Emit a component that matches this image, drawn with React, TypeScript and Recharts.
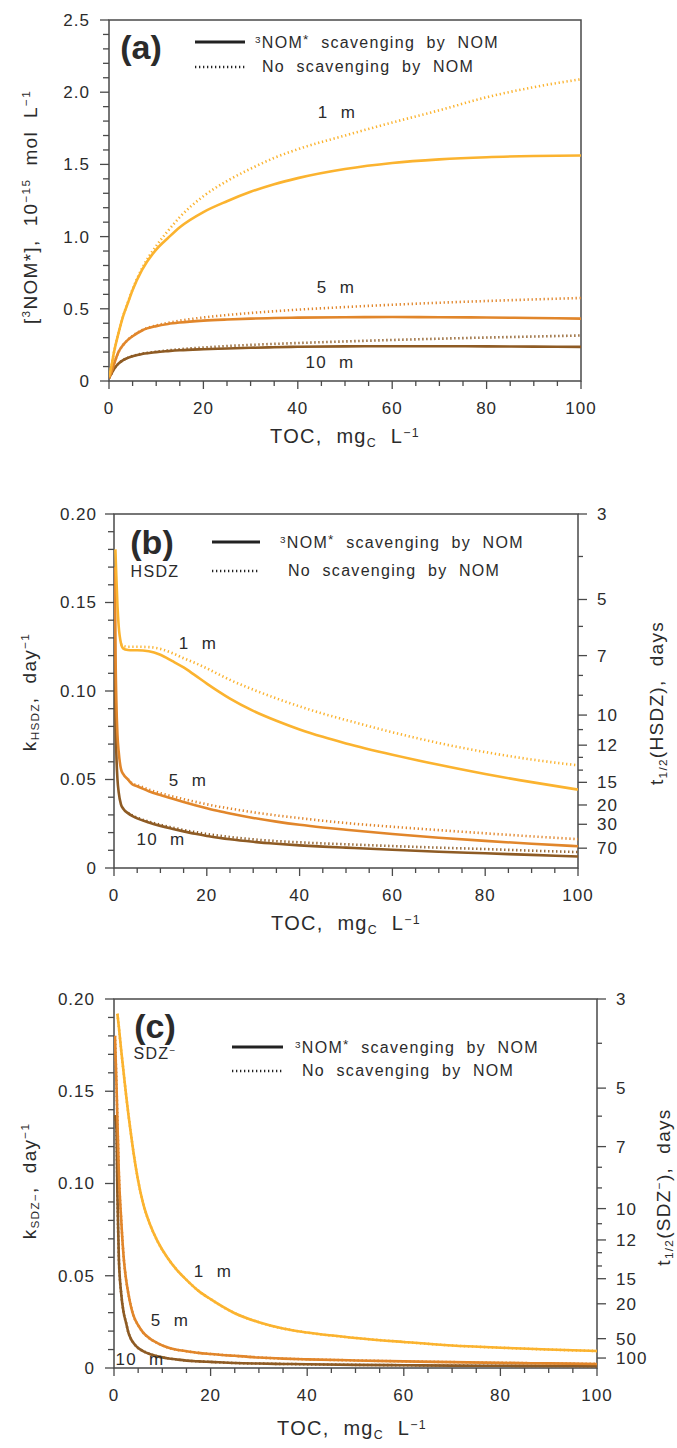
import React from "react";
import { LineChart, Line, XAxis, YAxis, ReferenceArea } from "recharts";

const FONT = '"Liberation Sans", Arial, Helvetica, sans-serif';
const INK = "#2b2b2b";
const FRAME = "#4a4a4a";
const C1 = "#FBB32F";
const C5 = "#E1862B";
const C10 = "#8E5B24";

// ---- panel (a): [3NOM*] vs TOC
const tocA = [0, 0.5, 1, 2, 3, 4, 5, 7, 10, 12.5, 15, 20, 25, 30, 35, 40, 50, 60, 70, 80, 90, 100];
const a1Solid = [0.03, 0.1, 0.19, 0.33, 0.45, 0.54, 0.63, 0.77, 0.91, 0.99, 1.065, 1.17, 1.245, 1.31, 1.363, 1.405, 1.468, 1.51, 1.535, 1.55, 1.558, 1.562];
const a1Dotted = [0.03, 0.1, 0.19, 0.33, 0.45, 0.545, 0.635, 0.78, 0.935, 1.04, 1.135, 1.28, 1.385, 1.47, 1.545, 1.605, 1.7, 1.79, 1.875, 1.965, 2.035, 2.09];
const a5Solid = [0.02, 0.06, 0.11, 0.2, 0.25, 0.285, 0.31, 0.35, 0.38, 0.395, 0.405, 0.418, 0.426, 0.432, 0.436, 0.439, 0.442, 0.443, 0.442, 0.44, 0.436, 0.432];
const a5Dotted = [0.02, 0.06, 0.11, 0.2, 0.25, 0.286, 0.312, 0.352, 0.385, 0.403, 0.418, 0.44, 0.457, 0.471, 0.483, 0.494, 0.512, 0.528, 0.542, 0.554, 0.565, 0.575];
const a10Solid = [0.02, 0.05, 0.08, 0.12, 0.145, 0.16, 0.172, 0.187, 0.2, 0.207, 0.213, 0.22, 0.225, 0.23, 0.234, 0.237, 0.24, 0.241, 0.241, 0.24, 0.238, 0.236];
const a10Dotted = [0.02, 0.05, 0.08, 0.12, 0.145, 0.161, 0.173, 0.189, 0.203, 0.212, 0.22, 0.232, 0.242, 0.25, 0.257, 0.263, 0.274, 0.284, 0.293, 0.301, 0.308, 0.315];

// ---- panel (b): k_HSDZ vs TOC
const tocB = [0.1, 0.2, 0.3, 0.5, 0.75, 1, 1.5, 2, 3, 4, 5, 7.5, 10, 12.5, 15, 17.5, 20, 22.5, 25, 30, 35, 40, 45, 50, 60, 70, 80, 90, 100];
const b1Solid = [null, null, 0.18, 0.165, 0.148, 0.137, 0.127, 0.124, 0.1232, 0.123, 0.123, 0.1225, 0.1205, 0.117, 0.1133, 0.1088, 0.1042, 0.0998, 0.0957, 0.0888, 0.0832, 0.0783, 0.0741, 0.0704, 0.064, 0.0583, 0.0531, 0.0485, 0.0443];
const b1Dotted = [null, null, null, null, null, null, 0.1265, 0.1255, 0.125, 0.125, 0.125, 0.1248, 0.1238, 0.1215, 0.1185, 0.1158, 0.1128, 0.1095, 0.1063, 0.1008, 0.0958, 0.0913, 0.0872, 0.0836, 0.0767, 0.0706, 0.0655, 0.0613, 0.058];
const b5Solid = [null, 0.17, 0.13, 0.095, 0.075, 0.066, 0.056, 0.053, 0.05, 0.0472, 0.0462, 0.0434, 0.0412, 0.0392, 0.0373, 0.0355, 0.0338, 0.0322, 0.0308, 0.0283, 0.0262, 0.0244, 0.0229, 0.0216, 0.0192, 0.0171, 0.0153, 0.0137, 0.0123];
const b5Dotted = [null, null, null, null, null, null, null, null, 0.0502, 0.0477, 0.0468, 0.0443, 0.0423, 0.0405, 0.0389, 0.0374, 0.036, 0.0347, 0.0336, 0.0315, 0.0297, 0.0282, 0.0267, 0.0254, 0.0233, 0.0214, 0.0196, 0.0179, 0.0163];
const b10Solid = [0.17, 0.12, 0.09, 0.065, 0.05, 0.043, 0.036, 0.0335, 0.031, 0.0293, 0.028, 0.0257, 0.0238, 0.0222, 0.0207, 0.0193, 0.0181, 0.0171, 0.0162, 0.0148, 0.0137, 0.0128, 0.0121, 0.0115, 0.0103, 0.0092, 0.0083, 0.0074, 0.0065];
const b10Dotted = [null, null, null, null, null, null, null, null, 0.0312, 0.0296, 0.0284, 0.0262, 0.0244, 0.0229, 0.0215, 0.0203, 0.0192, 0.0183, 0.0175, 0.0162, 0.0152, 0.0145, 0.0139, 0.0134, 0.0124, 0.0115, 0.0107, 0.0098, 0.009];

// ---- panel (c): k_SDZ- vs TOC
const tocC = [0.2, 0.5, 0.7, 1, 1.5, 2, 2.5, 3, 3.5, 4, 5, 6, 7.5, 9, 11, 13, 15, 17.5, 20, 25, 30, 35, 40, 50, 60, 70, 80, 90, 100];
const c1Solid = [null, null, 0.192, 0.185, 0.172, 0.16, 0.148, 0.137, 0.127, 0.1175, 0.1015, 0.0895, 0.0775, 0.0688, 0.06, 0.0532, 0.0478, 0.0418, 0.0373, 0.0297, 0.0248, 0.0214, 0.0192, 0.0163, 0.0141, 0.0122, 0.011, 0.01, 0.0092];
const c1Dotted = [null, null, 0.192, 0.185, 0.172, 0.16, 0.148, 0.137, 0.127, 0.1175, 0.1015, 0.0895, 0.0775, 0.0688, 0.06, 0.0532, 0.0478, 0.0418, 0.0373, 0.0297, 0.0248, 0.0214, 0.0192, 0.0163, 0.0141, 0.0122, 0.011, 0.01, 0.0092];
const c5Solid = [0.18, 0.155, 0.135, 0.106, 0.08, 0.06, 0.048, 0.04, 0.0335, 0.0287, 0.0232, 0.0193, 0.0158, 0.0135, 0.0112, 0.0099, 0.0091, 0.0082, 0.0076, 0.0066, 0.0057, 0.0051, 0.0047, 0.0041, 0.0036, 0.0032, 0.0028, 0.0025, 0.0022];
const c5Dotted = [0.18, 0.155, 0.135, 0.106, 0.08, 0.06, 0.048, 0.04, 0.0335, 0.0287, 0.0232, 0.0193, 0.0158, 0.0135, 0.0112, 0.0099, 0.0091, 0.0082, 0.0076, 0.0066, 0.0057, 0.0051, 0.0047, 0.0041, 0.0036, 0.0032, 0.0028, 0.0025, 0.0022];
const c10Solid = [0.137, 0.13, 0.095, 0.06, 0.04, 0.03, 0.0245, 0.019, 0.0158, 0.0137, 0.0108, 0.0092, 0.0075, 0.0063, 0.0053, 0.0046, 0.004, 0.0036, 0.0033, 0.0027, 0.0024, 0.0022, 0.002, 0.0017, 0.0015, 0.0013, 0.0012, 0.0011, 0.001];
const c10Dotted = [0.137, 0.13, 0.095, 0.06, 0.04, 0.03, 0.0245, 0.019, 0.0158, 0.0137, 0.0108, 0.0092, 0.0075, 0.0063, 0.0053, 0.0046, 0.004, 0.0036, 0.0033, 0.0027, 0.0024, 0.0022, 0.002, 0.0017, 0.0015, 0.0013, 0.0012, 0.0011, 0.001];

// ---- ticks
const xTicks = [0, 5, 10, 15, 20, 25, 30, 35, 40, 45, 50, 55, 60, 65, 70, 75, 80, 85, 90, 95, 100];
const xMajor = [0, 20, 40, 60, 80, 100];
const xLabels = ["0", "20", "40", "60", "80", "100"];

const yTicksA = [0, 0.1, 0.2, 0.3, 0.4, 0.5, 0.6, 0.7, 0.8, 0.9, 1, 1.1, 1.2, 1.3, 1.4, 1.5, 1.6, 1.7, 1.8, 1.9, 2, 2.1, 2.2, 2.3, 2.4, 2.5];
const yMajorA = [0, 0.5, 1, 1.5, 2, 2.5];
const yLabelsA = ["0", "0.5", "1.0", "1.5", "2.0", "2.5"];

const yTicksK = [0, 0.01, 0.02, 0.03, 0.04, 0.05, 0.06, 0.07, 0.08, 0.09, 0.1, 0.11, 0.12, 0.13, 0.14, 0.15, 0.16, 0.17, 0.18, 0.19, 0.2];
const yMajorK = [0, 0.05, 0.1, 0.15, 0.2];
const yLabelsK = ["0", "0.05", "0.10", "0.15", "0.20"];

// half-life axis: tick positions in k units, with their day labels
const halfLifeTicksB = [0.2, 0.176, 0.1517, 0.1365, 0.12, 0.1088, 0.0976, 0.0864, 0.0782, 0.0694, 0.0625, 0.0553, 0.0484, 0.0356, 0.0247, 0.0112];
const halfLifeLabelsB = ["3", "", "5", "", "7", "", "", "10", "", "12", "", "", "15", "20", "30", "70"];
const halfLifeTicksC = [0.2, 0.176, 0.1517, 0.1365, 0.12, 0.1088, 0.0976, 0.0864, 0.0782, 0.0694, 0.0625, 0.0553, 0.0484, 0.0348, 0.0159, 0.0054];
const halfLifeLabelsC = ["3", "", "5", "", "7", "", "", "10", "", "12", "", "", "15", "20", "50", "100"];

function table(toc: number[], cols: Record<string, (number | null)[]>) {
  return toc.map((t, i) => {
    const row: Record<string, number | null> = { toc: t };
    Object.keys(cols).forEach((k) => (row[k] = cols[k][i]));
    return row;
  });
}

const dataA = table(tocA, { s1: a1Solid, d1: a1Dotted, s5: a5Solid, d5: a5Dotted, s10: a10Solid, d10: a10Dotted });
const dataB = table(tocB, { s1: b1Solid, d1: b1Dotted, s5: b5Solid, d5: b5Dotted, s10: b10Solid, d10: b10Dotted });
const dataC = table(tocC, { s1: c1Solid, d1: c1Dotted, s5: c5Solid, d5: c5Dotted, s10: c10Solid, d10: c10Dotted });

const near = (a: number, b: number) => Math.abs(a - b) < 1e-7;
const tickText = { fontFamily: FONT, fontSize: 17, fill: INK, letterSpacing: 1 };

function bottomTick(p: any) {
  const v = p.payload.value;
  const i = xMajor.findIndex((m) => near(m, v));
  return (
    <g>
      <line x1={p.x} x2={p.x} y1={p.y} y2={p.y + (i >= 0 ? 8 : 5)} stroke={FRAME} strokeWidth={1.3} />
      {i >= 0 && (
        <text x={p.x} y={p.y + 27} dy="0.35em" textAnchor="middle" {...tickText}>
          {xLabels[i]}
        </text>
      )}
    </g>
  );
}

function leftTick(majors: number[], labels: string[], gap: number) {
  return (p: any) => {
    const v = p.payload.value;
    const i = majors.findIndex((m) => near(m, v));
    return (
      <g>
        <line x1={p.x} x2={p.x - (i >= 0 ? 9 : 6)} y1={p.y} y2={p.y} stroke={FRAME} strokeWidth={1.3} />
        {i >= 0 && (
          <text x={p.x - gap} y={p.y} dy="0.35em" textAnchor="end" {...tickText}>
            {labels[i]}
          </text>
        )}
      </g>
    );
  };
}

function rightTick(ticks: number[], labels: string[]) {
  return (p: any) => {
    const v = p.payload.value;
    const i = ticks.findIndex((m) => near(m, v));
    const lab = i >= 0 ? labels[i] : "";
    return (
      <g>
        <line x1={p.x} x2={p.x + (lab ? 9 : 5)} y1={p.y} y2={p.y} stroke={FRAME} strokeWidth={1.3} />
        {lab && (
          <text x={p.x + 19} y={p.y} dy="0.35em" textAnchor="start" {...tickText}>
            {lab}
          </text>
        )}
      </g>
    );
  };
}

function curves() {
  const common = { type: "monotone" as const, dot: false, isAnimationActive: false, strokeWidth: 2.6, connectNulls: false };
  const dash = "1.3 2.7";
  return [
    <Line key="d10" dataKey="d10" stroke={C10} strokeDasharray={dash} {...common} />,
    <Line key="d5" dataKey="d5" stroke={C5} strokeDasharray={dash} {...common} />,
    <Line key="d1" dataKey="d1" stroke={C1} strokeDasharray={dash} {...common} />,
    <Line key="s10" dataKey="s10" stroke={C10} {...common} />,
    <Line key="s5" dataKey="s5" stroke={C5} {...common} />,
    <Line key="s1" dataKey="s1" stroke={C1} {...common} />,
  ];
}

function Txt(props: { x: number; y: number; size?: number; rotate?: boolean; left?: boolean; bold?: boolean; children: React.ReactNode }) {
  const { x, y, size = 17, rotate, left, bold, children } = props;
  const tr = left ? "translate(0,-50%)" : "translate(-50%,-50%)" + (rotate ? " rotate(-90deg)" : "");
  return (
    <div
      style={{
        position: "absolute",
        left: x,
        top: y,
        transform: tr,
        fontFamily: FONT,
        fontSize: size,
        fontWeight: bold ? 700 : 400,
        color: INK,
        whiteSpace: "pre",
        letterSpacing: bold ? 0 : 1.3,
        lineHeight: 1,
      }}
    >
      {children}
    </div>
  );
}

const supS = { fontSize: "0.62em", verticalAlign: "0.55em" };
const starS = { fontSize: "0.85em", verticalAlign: "0.3em" };
const subS = { fontSize: "0.62em", verticalAlign: "-0.3em" };

function LegendBlock({ x0, x1, y1, y2, tx1, tx2 }: { x0: number; x1: number; y1: number; y2: number; tx1: number; tx2: number }) {
  return (
    <>
      <svg style={{ position: "absolute", left: 0, top: 0, overflow: "visible" }} width={1} height={1}>
        <line x1={x0} x2={x1} y1={y1} y2={y1} stroke="#222" strokeWidth={3} />
        <line x1={x0} x2={x1} y1={y2} y2={y2} stroke="#222" strokeWidth={2.4} strokeDasharray="1.3 2.7" />
      </svg>
      <Txt x={tx1} y={y1} size={16} left>
        <span style={supS}>3</span>NOM<span style={starS}>*</span>{"  scavenging  by  NOM"}
      </Txt>
      <Txt x={tx2} y={y2} size={16} left>
        {"No  scavenging  by  NOM"}
      </Txt>
    </>
  );
}

const xTitle = (
  <>
    {"TOC,  mg"}
    <span style={subS}>C</span>
    {"  L"}
    <span style={supS}>−1</span>
  </>
);

export default function App() {
  return (
    <div style={{ position: "absolute", left: 0, top: 0, width: 677, height: 1448, background: "#fff" }}>
      {/* (a) */}
      <div style={{ position: "absolute", left: 0, top: 0 }}>
        <LineChart width={677} height={460} data={dataA} margin={{ top: 20, right: 96, bottom: 49, left: 49 }}>
          <XAxis dataKey="toc" type="number" domain={[0, 100]} ticks={xTicks} interval={0} height={30}
            tick={bottomTick} tickLine={false} axisLine={false} tickSize={0} tickMargin={0} allowDataOverflow />
          <YAxis type="number" domain={[0, 2.5]} ticks={yTicksA} interval={0} width={60}
            tick={leftTick(yMajorA, yLabelsA, 19)} tickLine={false} axisLine={false} tickSize={0} tickMargin={0} allowDataOverflow />
          {curves()}
          <ReferenceArea x1={0} x2={100} y1={0} y2={2.5} fill="none" stroke={FRAME} strokeWidth={1.5} />
        </LineChart>
      </div>
      {/* (b) */}
      <div style={{ position: "absolute", left: 0, top: 490 }}>
        <LineChart width={677} height={420} data={dataB} margin={{ top: 24, right: 39, bottom: 12, left: 54 }}>
          <XAxis dataKey="toc" type="number" domain={[0, 100]} ticks={xTicks} interval={0} height={30}
            tick={bottomTick} tickLine={false} axisLine={false} tickSize={0} tickMargin={0} allowDataOverflow />
          <YAxis type="number" domain={[0, 0.2]} ticks={yTicksK} interval={0} width={60}
            tick={leftTick(yMajorK, yLabelsK, 17)} tickLine={false} axisLine={false} tickSize={0} tickMargin={0} allowDataOverflow />
          <YAxis yAxisId="r" orientation="right" type="number" domain={[0, 0.2]} ticks={halfLifeTicksB} interval={0} width={60}
            tick={rightTick(halfLifeTicksB, halfLifeLabelsB)} tickLine={false} axisLine={false} tickSize={0} tickMargin={0} allowDataOverflow />
          {curves()}
          <ReferenceArea x1={0} x2={100} y1={0} y2={0.2} fill="none" stroke={FRAME} strokeWidth={1.5} />
        </LineChart>
      </div>
      {/* (c) */}
      <div style={{ position: "absolute", left: 0, top: 980 }}>
        <LineChart width={677} height={440} data={dataC} margin={{ top: 19, right: 20, bottom: 22, left: 54 }}>
          <XAxis dataKey="toc" type="number" domain={[0, 100]} ticks={xTicks} interval={0} height={30}
            tick={bottomTick} tickLine={false} axisLine={false} tickSize={0} tickMargin={0} allowDataOverflow />
          <YAxis type="number" domain={[0, 0.2]} ticks={yTicksK} interval={0} width={60}
            tick={leftTick(yMajorK, yLabelsK, 19)} tickLine={false} axisLine={false} tickSize={0} tickMargin={0} allowDataOverflow />
          <YAxis yAxisId="r" orientation="right" type="number" domain={[0, 0.2]} ticks={halfLifeTicksC} interval={0} width={60}
            tick={rightTick(halfLifeTicksC, halfLifeLabelsC)} tickLine={false} axisLine={false} tickSize={0} tickMargin={0} allowDataOverflow />
          {curves()}
          <ReferenceArea x1={0} x2={100} y1={0} y2={0.2} fill="none" stroke={FRAME} strokeWidth={1.5} />
        </LineChart>
      </div>

      {/* panel (a) text */}
      <Txt x={141} y={47} size={34} bold>(a)</Txt>
      <LegendBlock x0={195} x1={245} y1={42} y2={67} tx1={255} tx2={262} />
      <Txt x={337} y={112}>{"1  m"}</Txt>
      <Txt x={336} y={287}>{"5  m"}</Txt>
      <Txt x={330} y={362}>{"10  m"}</Txt>
      <Txt x={30} y={207} size={19} rotate>
        {"["}<span style={supS}>3</span>{"NOM*],  10"}<span style={supS}>−15</span>{"  mol  L"}<span style={supS}>−1</span>
      </Txt>
      <Txt x={345} y={438} size={20}>{xTitle}</Txt>

      {/* panel (b) text */}
      <Txt x={152} y={542} size={34} bold>(b)</Txt>
      <Txt x={155} y={572} size={16}>HSDZ</Txt>
      <LegendBlock x0={212} x1={260} y1={542} y2={571} tx1={280} tx2={288} />
      <Txt x={198} y={643}>{"1  m"}</Txt>
      <Txt x={188} y={780}>{"5  m"}</Txt>
      <Txt x={161} y={839}>{"10  m"}</Txt>
      <Txt x={30} y={692} size={19} rotate>
        {"k"}<span style={subS}>HSDZ</span>{",  day"}<span style={supS}>−1</span>
      </Txt>
      <Txt x={658} y={703} size={19} rotate>
        {"t"}<span style={subS}>1/2</span>{"(HSDZ),  days"}
      </Txt>
      <Txt x={346} y={925} size={20}>{xTitle}</Txt>

      {/* panel (c) text */}
      <Txt x={155} y={1026} size={34} bold>(c)</Txt>
      <Txt x={155} y={1054} size={16}>
        {"SDZ"}<span style={supS}>−</span>
      </Txt>
      <LegendBlock x0={232} x1={283} y1={1047} y2={1071} tx1={295} tx2={302} />
      <Txt x={213} y={1271}>{"1  m"}</Txt>
      <Txt x={170} y={1320}>{"5  m"}</Txt>
      <Txt x={140} y={1359}>{"10  m"}</Txt>
      <Txt x={30} y={1181} size={19} rotate>
        {"k"}<span style={subS}>{"SDZ"}<span style={{ fontSize: "1em" }}>−</span></span>{",  day"}<span style={supS}>−1</span>
      </Txt>
      <Txt x={664} y={1187} size={19} rotate>
        {"t"}<span style={subS}>1/2</span>{"(SDZ"}<span style={supS}>−</span>{"),  days"}
      </Txt>
      <Txt x={352} y={1430} size={20}>{xTitle}</Txt>
    </div>
  );
}
